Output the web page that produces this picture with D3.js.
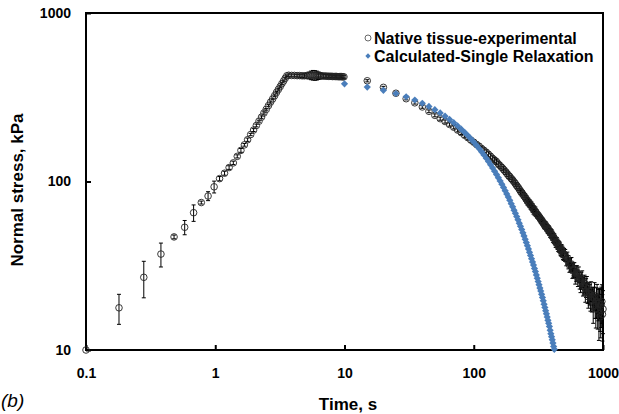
<!DOCTYPE html>
<html>
<head>
<meta charset="utf-8">
<script src="https://cdn.jsdelivr.net/npm/d3@7"></script>
<style>
  body { margin: 0; background: #fff; }
  svg { display: block; font-family: "Liberation Sans", Arial, sans-serif; }
  .tick text { font-weight: bold; font-size: 14px; fill: #000; }
</style>
</head>
<body>
<svg class="d3-svg"></svg>
<script>
// loading ramp
let rampTime   = [0.1,0.18,0.28,0.38,0.48,0.58,0.68,0.78,0.88,0.98,1.08,1.18,1.28,1.38,1.48,1.58,1.68,1.78,1.88,1.98,
                  2.08,2.18,2.28,2.38,2.48,2.58,2.68,2.78,2.88,2.98,3.08,3.18,3.28,3.38,3.48,3.58];
let rampStress = [10,17.8,27,37.1,46.9,53.5,65.3,75,82,93,104,112,121,129,141,153,165,177,190,202,
                  215,228,241,255,268,282,296,309,323,338,352,366,381,395,410,424];
let rampErr    = [0,3.6,6.6,6,1.2,5.2,7.3,1.5,5,7.5,3,3,3,3,3,4,3,4,3,4,
                  4,3,4,4,3,4,4,3,4,4,4,4,5,4,5,5];

// hold
let holdTime   = [3.7,3.9,4.1,4.3,4.5,4.7,4.9,5.1,5.3,5.5,5.7,5.9,6.1,6.3,6.5,6.7,6.9,7.1,7.3,7.5,
                  7.7,7.9,8.1,8.3,8.5,8.7,8.9,9.1,9.3,9.5,9.7,9.9];
let holdStress = [427,426,426,425,425,424,424,425,426,427,428,427,426,425,424,423,423,422,422,421,
                  421,421,420,420,420,420,419,419,419,419,418,418];
let holdErr    = [8,8,8,8,9,10,12,15,20,25,28,28,26,22,18,14,12,10,10,9,
                  9,8,8,8,8,8,8,8,8,8,8,8];

// relaxation
let relaxTime = [15,20,25,30,35,40,45,50,55,60,65,70,75,80,85,90,95,100,105,110,
                 115,120,125,130,135,140,145,150,155,160,165,170,175,180,185,190,195,200,
                 205,210,215,220,225,230,235,240,245,250,255,260,265,270,275,280,285,290,295,300,
                 305,310,315,320,325,330,335,340,345,350,355,360,365,370,375,380,385,390,395,400,
                 405,410,415,420,425,430,435,440,445,450,455,460,465,470,475,480,485,490,495,500,
                 510,520,530,540,550,560,570,580,590,600,
                 610,620,630,640,650,660,670,680,690,700,710,720,730,740,750,760,770,780,790,800,
                 810,820,830,840,850,860,870,880,890,900,910,920,930,940,950,960,970,980,990,1000];
let relaxStress = [396,362,334,310,293,277,261,247,236,227,218,210,202,195,188,182,176,171,166,162,
                   157,153,149,145,141,137,134,131,127,124,121,118,115,112,109,107,104,102,
                   99.5,97,94.5,92.5,90,87.5,86,84,82,80.5,78.5,76.5,75.5,74,72.5,71.5,69.8,68,67.2,66.5,
                   65,63.5,62.8,62,60.8,59.5,58.7,58,56.8,55.5,55.2,54.8,53.7,52.6,52.2,51.8,50.8,49.6,49.3,48.9,
                   47.8,46.6,46.3,45.9,45.0,43.7,43.6,43.4,42.5,41.5,41.3,40.9,40.2,39.3,39.1,39.0,38.3,37.4,37.2,37.0,
                   36.5,34.6,35.1,33.3,31.9,32.2,32.4,29.6,29.9,30.0,
                   27.6,28.6,28.6,26.8,28.1,26.0,24.9,25.9,26.5,23.9,24.2,24.8,22.2,23.5,24.3,21.9,20.7,22.2,21.5,20.0,
                   22.4,19.8,20.5,18.4,20.6,21.1,18.4,17.5,19.4,20.5,17.3,18.9,16.4,19.2,17.9,15.8,18.6,19.4,16.3,17.5];
let relaxErr = [6,5,5,5,5,5,5,5,5,5,5,5,5,5,5,5,5,5,5,5,
                5,5,5,5,5,5,5,5,5,5,5,5,5,5,5,4,4,4,
                4,4,4,4,4,4,4,4,4,4,4,4,4,4,4,4,4,4,4,4,
                3,3,3,3,3,3,3,3,3,3,3,3,3,3,3,3,3,3,3,3,
                3,3,3,3,3,3,3,3,3,3,3,3,3,3,3,3,3,3,3,3,
                3,3,3,3,3,3,3,3,3,3,
                3,3,3,3,3,3,3,3,3,3,3,3,3,3,3,3,3,3,3,3,
                3,3,3,4,3,4,3,4,4,4,4,4,5,4,5,4,5,5,5,5];

// single relaxation fit
let calcTime = [10,15,20,25,30,35,40,45,50,55,60,65,70,75,80,85,90,95,100,105,
                110,115,120,125,130,135,140,145,150,155,160,165,170,175,180,185,190,195,200,
                205,210,215,220,225,230,235,240,245,250,255,260,265,270,275,280,285,290,295,300,
                305,310,315,320,325,330,335,340,345,350,355,360,365,370,375,380,385,390,395,400,
                405,410,415,420];
let calcStress = [380,363.5,347.8,332.8,318.4,304.6,291.4,278.8,266.7,255.2,244.1,233.6,223.5,213.8,204.5,195.7,187.2,179.1,171.4,163.9,
                  156.8,150.1,143.6,137.4,131.4,125.7,120.3,115.1,110.1,105.3,100.8,96.4,92.2,88.2,84.4,80.8,77.3,73.9,70.7,
                  67.6,64.7,61.9,59.2,56.6,54.2,51.9,49.6,47.5,45.4,43.4,41.6,39.8,38.0,36.4,34.8,33.3,31.9,30.5,29.2,
                  27.9,26.7,25.5,24.4,23.3,22.4,21.4,20.5,19.6,18.7,17.9,17.1,16.4,15.7,15.0,14.4,13.8,13.1,12.5,12.0,
                  11.5,11.0,10.5,10.1];

let xTicks = [0.1, 1, 10, 100, 1000];
let yTicks = [10, 100, 1000];

let expTime   = rampTime.concat(holdTime, relaxTime);
let expStress = rampStress.concat(holdStress, relaxStress);
let expErr    = rampErr.concat(holdErr, relaxErr);
let expData   = expTime.map((t, i) => ({t: t, s: expStress[i], e: expErr[i]}));
let calcData  = calcTime.map((t, i) => ({t: t, s: calcStress[i]}));

let width  = 619;
let height = 414;
let margin = {left: 86, right: 16, top: 13, bottom: 64};
let svg = d3.select(".d3-svg").attr("width", width).attr("height", height);

let x = d3.scaleLog().domain([0.1, 1000]).range([margin.left, width - margin.right]);
let y = d3.scaleLog().domain([10, 1000]).range([height - margin.bottom, margin.top]);

svg.append("rect").attr("width", width).attr("height", height).attr("fill", "#fff");

let xAxis = svg.append("g")
  .attr("transform", "translate(0," + (height - margin.bottom) + ")")
  .call(d3.axisBottom(x).tickValues(xTicks).tickFormat(d => d).tickSizeInner(-5).tickSizeOuter(0).tickPadding(18));
xAxis.select(".domain").remove();
xAxis.selectAll(".tick line").attr("stroke", "#000").attr("stroke-width", 2);

let yAxis = svg.append("g")
  .attr("transform", "translate(" + margin.left + ",0)")
  .call(d3.axisLeft(y).tickValues(yTicks).tickFormat(d => d).tickSizeInner(-5).tickSizeOuter(0).tickPadding(15));
yAxis.select(".domain").remove();
yAxis.selectAll(".tick line").attr("stroke", "#000").attr("stroke-width", 2);

svg.append("rect")
  .attr("x", margin.left)
  .attr("y", margin.top)
  .attr("width", width - margin.right - margin.left)
  .attr("height", height - margin.bottom - margin.top)
  .attr("fill", "none")
  .attr("stroke", "#000")
  .attr("stroke-width", 2);

// error bars
let bars = svg.append("g").attr("stroke", "#000").attr("stroke-width", 1);
expData.filter(d => d.e > 0).forEach(function(d) {
  let cx = x(d.t), y1 = y(d.s + d.e), y2 = y(d.s - d.e);
  bars.append("line").attr("x1", cx).attr("x2", cx).attr("y1", y1).attr("y2", y2);
  bars.append("line").attr("x1", cx - 2).attr("x2", cx + 2).attr("y1", y1).attr("y2", y1);
  bars.append("line").attr("x1", cx - 2).attr("x2", cx + 2).attr("y1", y2).attr("y2", y2);
});

svg.append("g")
  .selectAll("circle")
  .data(expData)
  .join("circle")
  .attr("cx", d => x(d.t))
  .attr("cy", d => y(d.s))
  .attr("r", 3.3)
  .attr("fill", "none")
  .attr("stroke", "#222")
  .attr("stroke-width", 0.9);

let diamond = d3.symbol().type(d3.symbolSquare).size(26);
svg.append("g")
  .selectAll("path")
  .data(calcData)
  .join("path")
  .attr("d", diamond)
  .attr("transform", d => "translate(" + x(d.t) + "," + y(d.s) + ") rotate(45)")
  .attr("fill", "#4a7ebb");

// legend
svg.append("circle").attr("cx", 368).attr("cy", 38).attr("r", 3).attr("fill", "none").attr("stroke", "#444").attr("stroke-width", 0.8);
svg.append("path").attr("d", d3.symbol().type(d3.symbolSquare).size(14)).attr("transform", "translate(368,56) rotate(45)").attr("fill", "#4a7ebb");
svg.append("text").attr("x", 374).attr("y", 43.5).attr("font-size", 16).attr("font-weight", "bold").text("Native tissue-experimental");
svg.append("text").attr("x", 374).attr("y", 62).attr("font-size", 16).attr("font-weight", "bold").text("Calculated-Single Relaxation");

// axis titles
svg.append("text")
  .attr("x", 348)
  .attr("y", 410)
  .attr("text-anchor", "middle")
  .attr("font-size", 17)
  .attr("font-weight", "bold")
  .text("Time, s");

svg.append("text")
  .attr("transform", "translate(23,190) rotate(-90)")
  .attr("text-anchor", "middle")
  .attr("font-size", 17)
  .attr("font-weight", "bold")
  .text("Normal stress, kPa");

svg.append("text")
  .attr("x", 1)
  .attr("y", 407)
  .attr("font-size", 19)
  .attr("font-style", "italic")
  .text("(b)");
</script>
</body>
</html>
